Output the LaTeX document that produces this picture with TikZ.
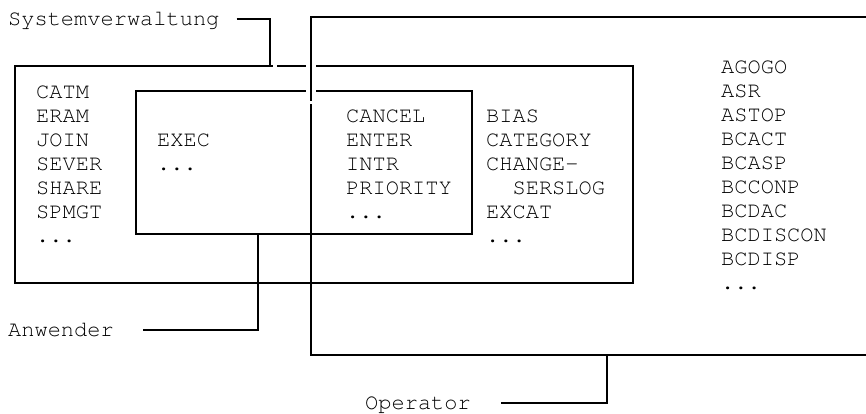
\documentclass[tikz,border=0pt]{standalone}
\usepackage[T1]{fontenc}
\usepackage{courier}
\newcommand\etc{...}
\begin{document}
\begin{tikzpicture}[x=1pt, y=-1pt,
    every node/.style={font=\ttfamily\fontsize{22}{24}\selectfont},
    box/.style={draw, line width=2.5pt, outer sep=0pt, inner sep=0pt, anchor=north west},
    cmd/.style={anchor=base west, inner sep=0pt},
    tag/.style={anchor=west, inner sep=0pt, text height=13pt, text depth=0pt},
    link/.style={line width=2.5pt},
    gap/.style={draw=white, line width=10pt}]
  \clip (0,0) rectangle (866,413);

  % Boxes
  \node[box, minimum width=618pt, minimum height=217pt] (sysbox) at (15,66) {};
  \node[box, minimum width=336pt, minimum height=143pt] (anwbox) at (136,91) {};
  \draw[gap] (311,60) -- (311,97);
  \node[box, minimum width=600pt, minimum height=338pt] (opbox) at (311,17) {};
  \draw[gap, line width=3pt] (306,102.5) -- (316,102.5);
  \draw[gap, line width=4pt] (272.5,66) -- (277,66);

  % Commands
  \foreach \w [count=\i from 0] in {CATM,ERAM,JOIN,SEVER,SHARE,SPMGT,\etc}
    \node[cmd] (sys-\i) at (36,{98.5+24*\i}) {\w};
  \foreach \w [count=\i from 0] in {EXEC,\etc}
    \node[cmd] (anw-\i) at (157,{146.5+24*\i}) {\w};
  \foreach \w [count=\i from 0] in {CANCEL,ENTER,INTR,PRIORITY,\etc}
    \node[cmd] (mid-\i) at (346,{122.5+24*\i}) {\w};
  \foreach \w [count=\i from 0] in {BIAS,CATEGORY,CHANGE-,{\phantom{XX}SERSLOG},EXCAT,\etc}
    \node[cmd] (bias-\i) at (486,{122.5+24*\i}) {\w};
  \foreach \w [count=\i from 0] in {AGOGO,ASR,ASTOP,BCACT,BCASP,BCCONP,BCDAC,BCDISCON,BCDISP,\etc}
    \node[cmd] (op-\i) at (721,{73.5+24*\i}) {\w};

  % Labels
  \node[tag] (sysv) at (8,19) {Systemverwaltung};
  \node[tag] (anw) at (8,330) {Anwender};
  \node[tag] (op) at (365,403) {Operator};

  % Leader lines
  \draw[link] ([xshift=17pt]sysv.east) -| ([xshift=255pt]sysbox.north west);
  \draw[link] ([xshift=29pt]anw.east) -| ([xshift=122pt]anwbox.south west);
  \draw[link] ([xshift=30pt]op.east) -| ([xshift=296pt]opbox.south west);
\end{tikzpicture}
\end{document}
